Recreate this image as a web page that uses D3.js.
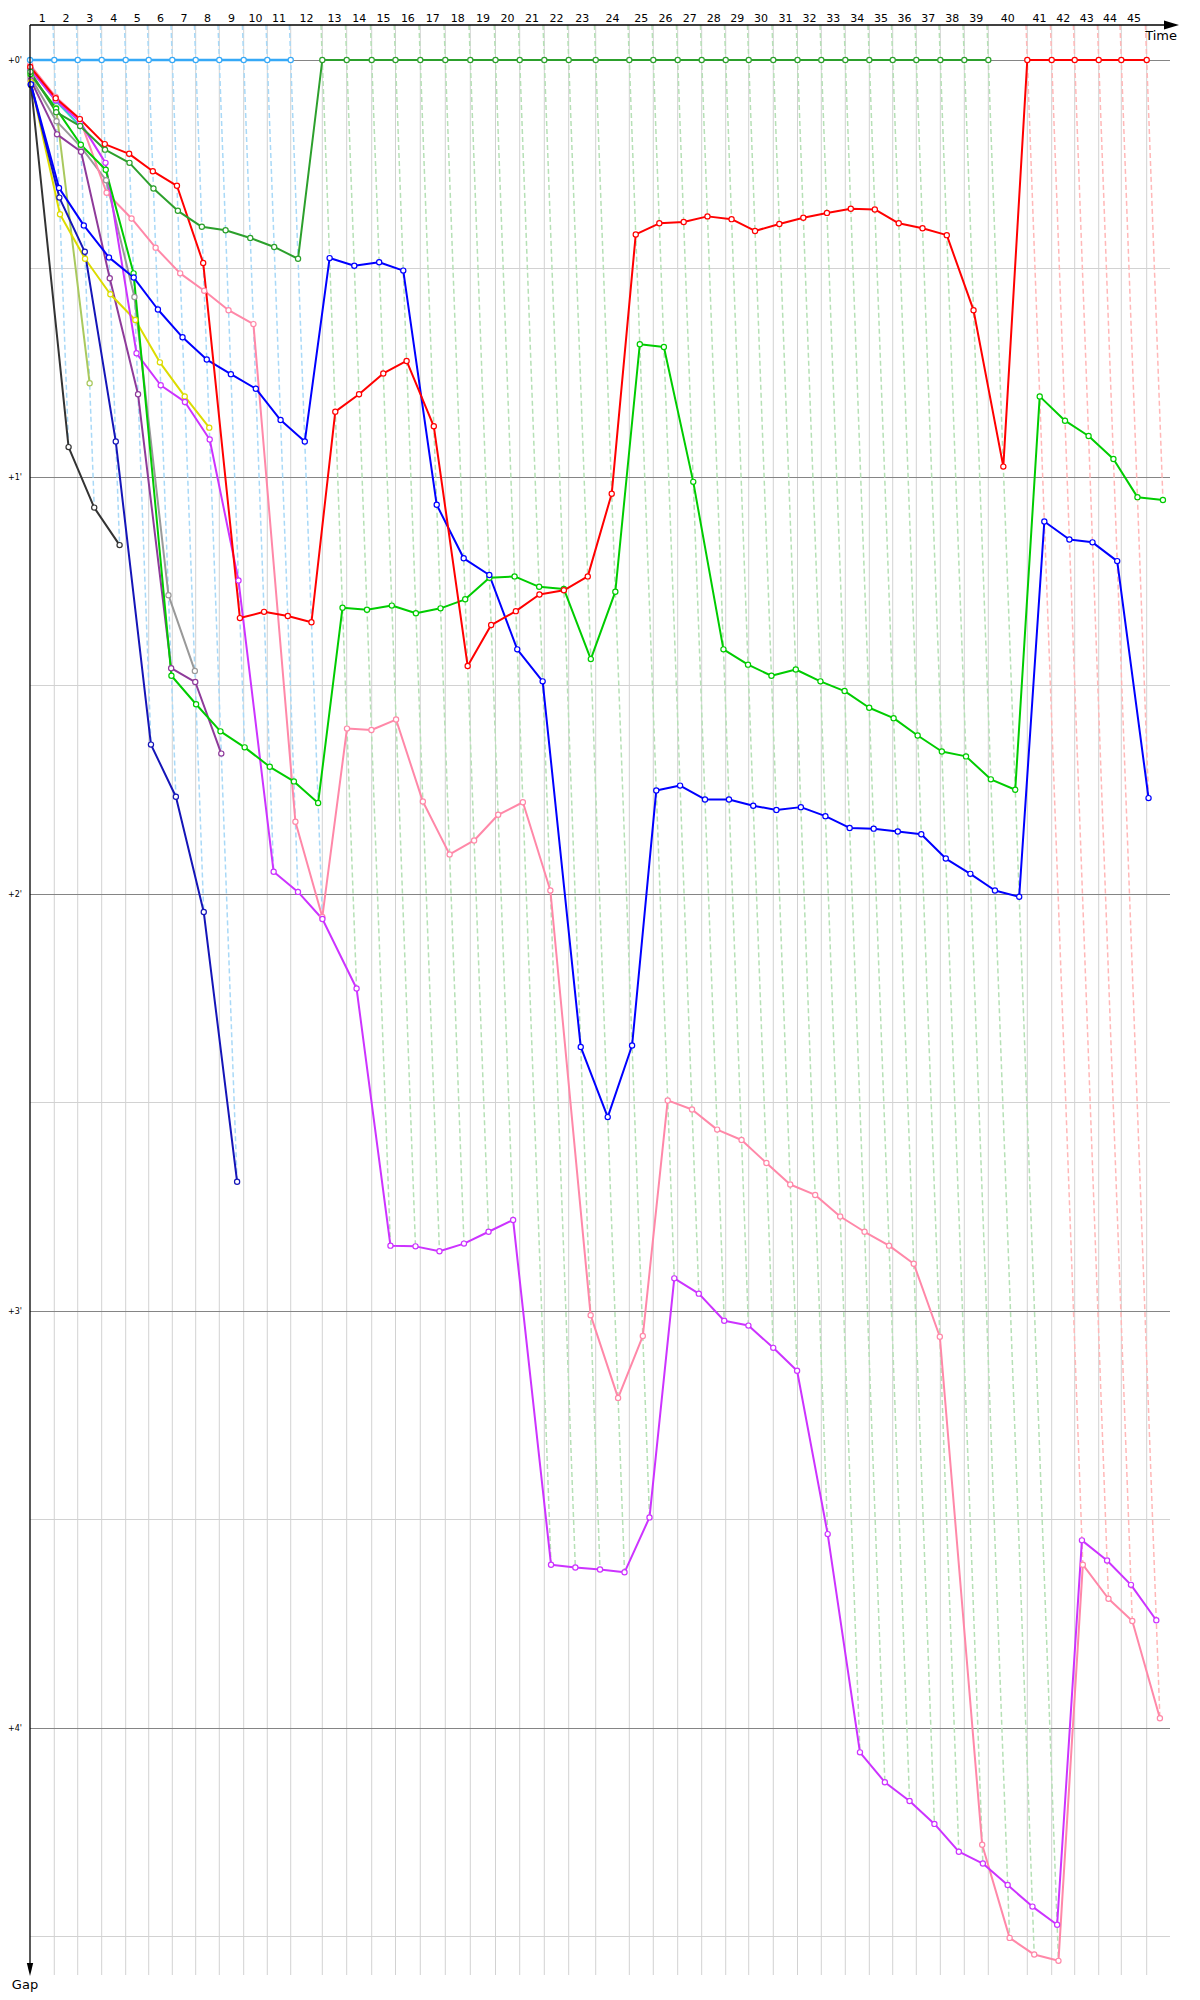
<!DOCTYPE html>
<html><head><meta charset="utf-8">
<script src="https://cdn.jsdelivr.net/npm/d3@7"></script>
<style>body{margin:0;background:#fff} svg{display:block}</style>
</head><body>
<svg id="c" width="1200" height="2000"></svg>
<script>
// ---- DATA ----
// Leader's cumulative race time (s) at the end of each lap (index = lap, 0 = start)
const leaderTimes = [0, 94.7, 186.0, 279.5, 373.1, 462.8, 554.8, 646.0, 738.0, 833.1, 925.1, 1016.4, 1139.6, 1234.7, 1332.2, 1424.9, 1521.6, 1619.1, 1716.6, 1814.8, 1909.2, 2005.1, 2100.2, 2205.5, 2336.5, 2430.0, 2525.1, 2618.7, 2712.3, 2802.0, 2897.8, 2992.2, 3085.0, 3178.6, 3272.2, 3363.4, 3455.4, 3549.0, 3642.5, 3736.1, 3888.1, 3983.2, 4072.9, 4166.5, 4254.6, 4353.6];
const lapLabels = d3.range(1, 46).map(String);
const gapTicks = [0, 60, 120, 180, 240];
const gapTickLabels = ["+0'", "+1'", "+2'", "+3'", "+4'"];
const gapMinorTicks = [30, 90, 150, 210, 270];

// Gap to leader (s) for each car, index = lap
const gapLightBlue = [0,0,0,0,0,0,0,0,0,0,0,0];
const gapDarkGreen = [1.7,7.5,9.5,12.9,14.8,18.5,21.7,24.0,24.5,25.6,26.9,28.6,0,0,0,0,0,0,0,0,0,0,0,0,0,0,0,0,0,0,0,0,0,0,0,0,0,0,0,0];
const gapLime = [2.0,7.0,12.2,15.8,30.7,88.6,92.7,96.6,98.9,101.7,103.8,106.9,78.8,79.1,78.5,79.6,78.9,77.6,74.5,74.3,75.8,76.1,86.2,76.5,40.9,41.3,60.7,84.8,87.0,88.6,87.7,89.4,90.8,93.2,94.7,97.2,99.5,100.2,103.5,105.0,48.4,51.9,54.1,57.4,62.9,63.3];
const gapRed = [1.0,5.5,8.5,12.1,13.5,16.0,18.1,29.2,80.3,79.4,80.0,80.9,50.6,48.1,45.1,43.3,52.7,87.2,81.3,79.3,76.9,76.3,74.3,62.4,25.1,23.5,23.3,22.5,22.9,24.6,23.6,22.7,22.0,21.4,21.5,23.5,24.2,25.2,36.0,58.5,0,0,0,0,0,0];
const gapBlue = [3.5,18.4,23.8,28.4,31.3,35.9,39.9,43.1,45.2,47.3,51.8,54.9,28.5,29.6,29.1,30.3,64.0,71.7,74.1,84.8,89.4,142.0,152.1,141.8,105.1,104.4,106.4,106.4,107.3,107.9,107.5,108.8,110.5,110.6,111.0,111.4,114.9,117.1,119.5,120.4,66.4,69.0,69.4,72.1,106.2];
const gapDarkBlue = [3.5,19.8,27.6,54.9,98.5,106.0,122.6,161.4];
const gapBlack = [3.6,55.7,64.4,69.8];
const gapYellow = [3.2,22.2,28.6,33.7,37.4,43.5,48.4,52.9];
const gapYellowGreen = [2.3,6.9,46.5];
const gapPurple = [2.9,10.7,13.2,31.4,48.1,87.5,89.5,99.8];
const gapGray = [2.5,8.8,12.5,17.3,34.1,77.0,87.9];
const gapTeal = [1.2,5.9,9.5];
const gapMagenta = [1.4,5.8,8.9,14.8,42.2,46.8,49.2,54.6,74.9,116.8,119.7,123.6,133.6,170.6,170.7,171.4,170.3,168.6,166.9,216.5,216.9,217.2,217.6,209.7,175.3,177.5,181.4,182.1,185.3,188.6,212.1,243.5,247.8,250.5,253.8,257.8,259.5,262.6,265.7,268.3,213.0,215.9,219.4,224.5];
const gapPink = [0.7,5.3,8.5,19.1,22.8,27.0,30.7,33.2,36.0,38.0,109.6,123.3,96.2,96.4,94.9,106.7,114.3,112.3,108.6,106.8,119.5,180.6,192.5,183.6,149.7,151.0,153.9,155.4,158.7,161.8,163.3,166.4,168.6,170.6,173.2,183.7,256.8,270.2,272.6,273.5,216.5,221.4,224.6,238.6];

const cars = ["yellowGreen","teal","gray","purple","yellow","black","darkBlue","pink","magenta","lime","blue","red","darkGreen","lightBlue"];
const carGaps = {yellowGreen:gapYellowGreen, teal:gapTeal, gray:gapGray, purple:gapPurple, yellow:gapYellow, black:gapBlack, darkBlue:gapDarkBlue, pink:gapPink, magenta:gapMagenta, lime:gapLime, blue:gapBlue, red:gapRed, darkGreen:gapDarkGreen, lightBlue:gapLightBlue};

// ---- STYLES ----
const colors = {yellowGreen:"#a9c95e", teal:"#33cccc", gray:"#999999", purple:"#8e3a9a", yellow:"#dcdc00", black:"#333333", darkBlue:"#1515b8", pink:"#ff88a8", magenta:"#cc33ff", lime:"#00cc00", blue:"#0000ff", red:"#ff0000", darkGreen:"#2ca02c", lightBlue:"#36a9f7"};
const dashColors = {lightBlue:"#a9d9f7", darkGreen:"#b6e0b6", red:"#ffb8b8"};

// ---- CHART ----
const svg = d3.select("#c");
const x = d3.scaleLinear().domain([0, leaderTimes[leaderTimes.length-1]]).range([30, 1146.7]);
const y = d3.scaleLinear().domain([0, 240]).range([60, 1728]);
const yTop = 25, yBottom = 1975, xRight = 1170;
const font = "DejaVu Sans, Verdana, sans-serif";

const g = svg.append("g");
g.selectAll("line.hmin").data(gapMinorTicks).join("line")
  .attr("x1", 30).attr("x2", xRight).attr("y1", d=>y(d)).attr("y2", d=>y(d))
  .attr("stroke", "#d2d2d2").attr("stroke-width", 1).attr("shape-rendering","crispEdges");
g.selectAll("line.v").data(d3.range(1, leaderTimes.length)).join("line")
  .attr("x1", d=>x(leaderTimes[d])).attr("x2", d=>x(leaderTimes[d]))
  .attr("y1", yTop).attr("y2", yBottom)
  .attr("stroke", "#d2d2d2").attr("stroke-width", 1);
g.selectAll("line.hmaj").data(gapTicks).join("line")
  .attr("x1", 30).attr("x2", xRight).attr("y1", d=>y(d)).attr("y2", d=>y(d))
  .attr("stroke", "#858585").attr("stroke-width", 1).attr("shape-rendering","crispEdges");

function leaderOf(lap){ return cars.find(c => carGaps[c].length > lap && carGaps[c][lap] === 0); }
const g0 = y.invert(yTop);
const dashData = d3.range(1, leaderTimes.length).map(lap => {
  const maxGap = d3.max(cars, c => carGaps[c].length > lap ? carGaps[c][lap] : undefined);
  return {lap, maxGap, leader: leaderOf(lap)};
});
g.selectAll("line.dash").data(dashData).join("line")
  .attr("x1", d=>x(leaderTimes[d.lap] + g0)).attr("y1", yTop)
  .attr("x2", d=>x(leaderTimes[d.lap] + d.maxGap)).attr("y2", d=>y(d.maxGap))
  .attr("stroke", d=>dashColors[d.leader]).attr("stroke-width", 1.5)
  .attr("stroke-dasharray", "5,3");

const line = d3.line().x(d=>x(leaderTimes[d.lap] + d.gap)).y(d=>y(d.gap));
cars.forEach(c => {
  const pts = carGaps[c].map((gap, lap) => ({lap, gap}));
  g.append("path").datum(pts).attr("d", line).attr("fill", "none")
    .attr("stroke", colors[c]).attr("stroke-width", c==="lightBlue"?2.6:2).attr("stroke-linejoin","round");
});
cars.forEach(c => {
  const pts = carGaps[c].map((gap, lap) => ({lap, gap}));
  g.append("g").selectAll("circle").data(pts).join("circle")
    .attr("cx", d=>x(leaderTimes[d.lap] + d.gap)).attr("cy", d=>y(d.gap)).attr("r", 2.6)
    .attr("fill", "#fff").attr("stroke", colors[c]).attr("stroke-width", 1.2);
});

svg.append("line").attr("x1", 30).attr("x2", 1166).attr("y1", yTop).attr("y2", yTop).attr("stroke", "#000").attr("stroke-width", 1.3);
svg.append("path").attr("d", "M1164,20.5L1179,25L1164,29.5Z").attr("fill", "#000");
svg.append("line").attr("x1", 30).attr("x2", 30).attr("y1", yTop).attr("y2", 1964).attr("stroke", "#000").attr("stroke-width", 1.3);
svg.append("path").attr("d", "M26.8,1963L30,1976L33.2,1963Z").attr("fill", "#000");

svg.append("g").selectAll("text").data(lapLabels).join("text")
  .attr("x", (d,i)=> (x(leaderTimes[i]) + x(leaderTimes[i+1]))/2).attr("y", 21.5)
  .attr("text-anchor", "middle").attr("font-family", font).attr("font-size", 11).attr("fill", "#000")
  .text(d=>d);
svg.append("g").selectAll("text").data(gapTicks).join("text")
  .attr("x", 22).attr("y", d=>y(d)+3).attr("text-anchor", "end")
  .attr("font-family", font).attr("font-size", 8).attr("fill", "#000")
  .text((d,i)=>gapTickLabels[i]);
svg.append("text").attr("x", 1177).attr("y", 40).attr("text-anchor", "end")
  .attr("font-family", font).attr("font-size", 13).text("Time");
svg.append("text").attr("x", 25).attr("y", 1989).attr("text-anchor", "middle")
  .attr("font-family", font).attr("font-size", 13).text("Gap");
</script>
</body></html>
